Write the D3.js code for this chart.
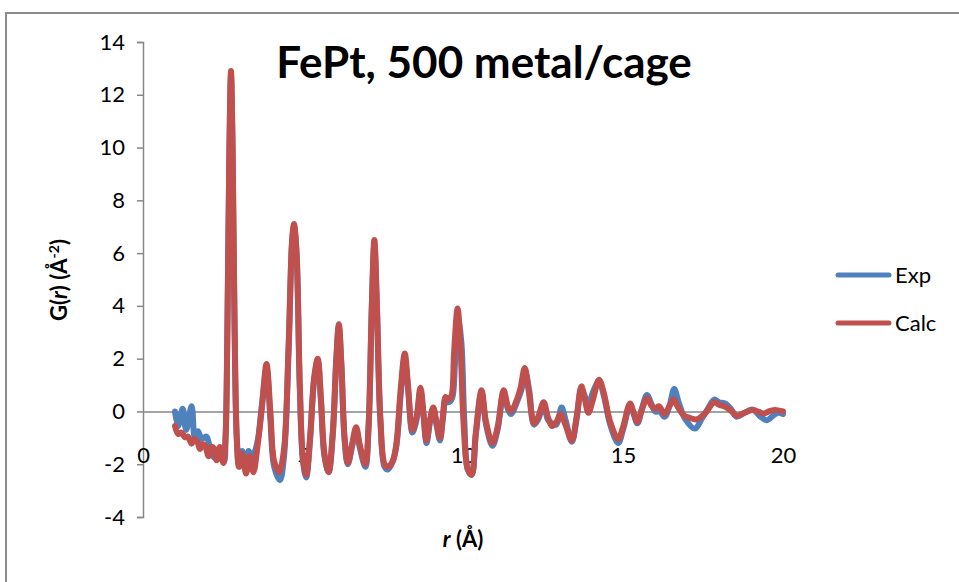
<!DOCTYPE html>
<html><head><meta charset="utf-8">
<script src="https://cdn.jsdelivr.net/npm/d3@7"></script>
<style>
body{margin:0;background:#fff;}
svg{display:block;font-family:Lato,"Open Sans","Noto Sans",sans-serif;}
</style></head><body>
<svg id="chart" width="959" height="582"></svg>
<script>
const titleText = "FePt, 500 metal/cage";
const seriesNames = ["Exp", "Calc"];
const xTicks = [0, 5, 10, 15, 20];
const yTicks = [-4, -2, 0, 2, 4, 6, 8, 10, 12, 14];

const rCalc = [1.00,1.10,1.20,1.31,1.40,1.52,1.60,1.70,1.78,1.86,1.94,2.05,2.13,2.22,2.30,2.40,2.51,2.58,2.64,2.70,2.75,2.80,2.86,2.93,3.00,3.10,3.22,3.33,3.45,3.58,3.72,3.86,3.98,4.10,4.25,4.40,4.55,4.66,4.72,4.80,4.90,5.00,5.10,5.22,5.35,5.46,5.56,5.67,5.80,5.93,6.04,6.12,6.20,6.30,6.40,6.54,6.66,6.78,6.95,7.05,7.15,7.23,7.31,7.42,7.55,7.65,7.80,7.92,8.05,8.18,8.28,8.42,8.55,8.67,8.76,8.86,8.97,9.07,9.17,9.28,9.37,9.46,9.55,9.64,9.72,9.83,9.92,10.02,10.15,10.27,10.40,10.58,10.72,10.92,11.08,11.27,11.40,11.50,11.70,11.80,11.93,12.05,12.22,12.35,12.52,12.65,12.78,12.92,13.05,13.20,13.40,13.55,13.70,13.80,13.92,14.05,14.25,14.40,14.60,14.85,15.00,15.22,15.32,15.45,15.60,15.75,15.90,16.00,16.12,16.30,16.45,16.58,16.70,16.90,17.10,17.30,17.55,17.85,18.00,18.20,18.40,18.55,18.80,19.05,19.25,19.40,19.60,19.80,20.00];
const gCalc = [-0.55,-0.85,-0.80,-0.98,-0.95,-1.22,-1.05,-1.15,-1.42,-1.25,-1.30,-1.70,-1.35,-1.40,-1.85,-1.35,-1.95,-1.0,3.5,10.0,12.9,10.0,3.5,-1.0,-2.1,-1.6,-2.35,-1.7,-2.3,-1.3,0.2,1.8,0.0,-1.9,-2.3,-1.5,2.5,6.5,7.1,6.0,1.0,-1.8,-2.4,-1.0,1.3,2.0,0.5,-1.6,-2.3,-0.8,2.0,3.3,1.8,-1.0,-1.95,-1.2,-0.6,-1.3,-2.0,-0.5,4.0,6.5,4.0,-0.3,-2.0,-2.1,-1.9,-1.2,0.8,2.2,1.0,-0.7,-0.2,0.9,0.0,-1.1,-0.3,0.15,-0.4,-1.0,-0.2,0.55,0.45,0.6,2.2,3.9,2.5,-0.5,-2.2,-2.4,-0.8,0.8,-0.4,-1.2,-0.6,0.8,0.2,0.0,0.5,0.9,1.65,0.8,-0.45,-0.2,0.35,-0.2,-0.55,-0.4,-0.1,-0.5,-1.1,-0.2,0.95,0.5,-0.05,0.4,1.2,0.7,-0.4,-1.05,-0.6,0.3,0.0,-0.4,0.1,0.5,0.2,0.1,0.2,-0.1,0.2,0.45,0.2,-0.15,-0.25,-0.3,-0.1,0.35,0.25,0.18,0.0,-0.17,-0.05,0.05,-0.02,-0.08,0.02,0.05,0.0];

const rExp = [1.00,1.10,1.24,1.35,1.52,1.62,1.72,1.83,1.98,2.08,2.23,2.35,2.45,2.53,2.58,2.64,2.70,2.75,2.80,2.86,2.93,3.00,3.10,3.22,3.30,3.40,3.50,3.60,3.72,3.86,3.98,4.10,4.28,4.40,4.55,4.66,4.72,4.80,4.90,5.00,5.10,5.22,5.35,5.46,5.56,5.67,5.80,5.93,6.04,6.12,6.20,6.30,6.40,6.54,6.66,6.78,6.95,7.05,7.15,7.23,7.31,7.42,7.55,7.65,7.80,7.92,8.05,8.18,8.28,8.42,8.55,8.67,8.76,8.86,8.97,9.07,9.17,9.28,9.37,9.46,9.55,9.66,9.75,9.86,9.95,10.04,10.15,10.27,10.40,10.58,10.72,10.92,11.08,11.27,11.40,11.50,11.70,11.82,11.95,12.07,12.22,12.35,12.52,12.65,12.78,12.92,13.08,13.20,13.40,13.55,13.70,13.80,13.92,14.05,14.25,14.40,14.60,14.85,15.00,15.22,15.32,15.45,15.60,15.75,15.90,16.00,16.15,16.30,16.45,16.60,16.75,16.95,17.25,17.45,17.65,17.85,18.00,18.20,18.40,18.55,18.80,19.05,19.30,19.50,19.70,19.85,20.00];
const gExp = [0.0,-0.55,0.1,-0.7,0.2,-1.0,-0.75,-1.05,-0.95,-1.3,-1.75,-1.5,-1.8,-1.9,-1.0,3.3,9.8,12.7,9.8,3.3,-1.0,-2.0,-1.5,-2.1,-1.5,-1.7,-1.5,-1.0,0.3,1.6,-0.3,-2.1,-2.6,-1.8,2.3,6.4,7.0,5.9,0.9,-1.9,-2.5,-1.1,1.2,1.9,0.4,-1.7,-2.3,-0.9,1.9,3.2,1.7,-1.1,-2.0,-1.3,-0.7,-1.4,-2.1,-0.6,3.9,6.3,3.9,-0.4,-2.1,-2.2,-1.9,-1.3,0.6,2.0,0.9,-0.8,-0.3,0.8,-0.1,-1.2,-0.4,0.1,-0.5,-1.1,-0.3,0.45,0.35,0.5,1.8,3.4,2.6,-0.3,-2.2,-2.4,-0.9,0.7,-0.5,-1.3,-0.7,0.7,0.1,-0.1,0.4,0.8,1.45,0.8,-0.5,-0.3,0.25,-0.3,-0.45,-0.5,0.15,-0.3,-1.15,-0.3,0.85,0.6,0.2,0.7,1.15,0.6,-0.5,-1.2,-0.7,0.25,-0.05,-0.45,0.15,0.62,0.25,0.0,0.0,-0.2,0.2,0.85,0.3,-0.3,-0.65,-0.3,0.1,0.45,0.35,0.3,0.05,-0.2,-0.05,0.07,-0.2,-0.33,-0.15,-0.05,-0.1];

const svg = d3.select("#chart");
// outer chart border
svg.append("rect").attr("x",6).attr("y",13).attr("width",1000).attr("height",1000)
  .attr("fill","none").attr("stroke","#8c8c8c").attr("stroke-width",2);

const x = d3.scaleLinear().domain([0,20]).range([143,783]);
const y = d3.scaleLinear().domain([-4,14]).range([517,42]);
const axisColor = "#868686";
const fmt = d => String(d);

// y axis
const yAxis = svg.append("g").attr("transform","translate(143,0)")
  .call(d3.axisLeft(y).tickValues(yTicks).tickSize(6).tickPadding(12).tickFormat(fmt));
yAxis.select(".domain").attr("stroke",axisColor).attr("stroke-width",1.5);
yAxis.selectAll(".tick line").attr("stroke",axisColor).attr("stroke-width",1.5);
yAxis.selectAll(".tick text").attr("font-size",22).attr("fill","#000").attr("font-family","Lato");

// x axis line at y = 0
const xAxis = svg.append("g").attr("transform",`translate(0,${y(0)})`)
  .call(d3.axisBottom(x).tickValues(xTicks).tickSize(0).tickPadding(0).tickFormat(fmt));
xAxis.select(".domain").attr("stroke",axisColor).attr("stroke-width",1.5);
xAxis.selectAll(".tick text").attr("font-size",22).attr("fill","#000").attr("font-family","Lato")
  .attr("dy",null).attr("y",52);

const line = d3.line().x(d=>x(d[0])).y(d=>y(d[1])).curve(d3.curveCatmullRom.alpha(0.5));
const expData = rExp.map((r,i)=>[r,gExp[i]]);
const calcData = rCalc.map((r,i)=>[r,gCalc[i]]);
const colors = {Exp:"#4F81BD", Calc:"#C0504D"};

svg.append("path").datum(expData).attr("d",line).attr("fill","none")
  .attr("stroke",colors.Exp).attr("stroke-width",6).attr("stroke-linejoin","round").attr("stroke-linecap","round");
svg.append("path").datum(calcData).attr("d",line).attr("fill","none")
  .attr("stroke",colors.Calc).attr("stroke-width",6).attr("stroke-linejoin","round").attr("stroke-linecap","round");

// title
svg.append("text").attr("x",484).attr("y",78).attr("text-anchor","middle")
  .attr("font-size",44).attr("font-weight","bold").attr("fill","#000").text(titleText);

// x axis title
const xt = svg.append("text").attr("x",463).attr("y",547).attr("text-anchor","middle")
  .attr("font-size",22).attr("font-weight","bold").attr("fill","#000");
xt.append("tspan").attr("font-style","italic").text("r");
xt.append("tspan").text(" (Å)");

// y axis title
const yt = svg.append("text").attr("transform","translate(67,280) rotate(-90)").attr("text-anchor","middle")
  .attr("font-size",22).attr("font-weight","bold").attr("fill","#000");
yt.append("tspan").text("G(");
yt.append("tspan").attr("font-style","italic").text("r");
yt.append("tspan").text(") (Å");
yt.append("tspan").attr("font-size",14).attr("dy",-8).text("-2");
yt.append("tspan").attr("dy",8).text(")");

// legend
const leg = svg.append("g");
seriesNames.forEach((name,i)=>{
  const yy = 275 + i*48;
  leg.append("line").attr("x1",838).attr("x2",889).attr("y1",yy).attr("y2",yy)
    .attr("stroke",colors[name]).attr("stroke-width",5).attr("stroke-linecap","round");
  leg.append("text").attr("x",895).attr("y",yy+8).attr("font-size",22).attr("fill","#000").text(name);
});
</script>
</body></html>
